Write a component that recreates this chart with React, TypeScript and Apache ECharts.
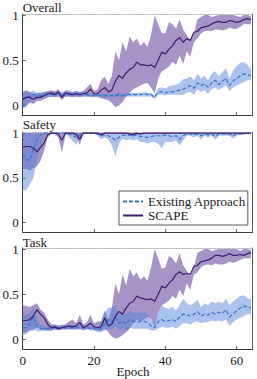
import React, { useEffect, useRef } from "react";
import * as echarts from "echarts";

const EPOCHS = [
  0, 1, 2, 3, 4, 5, 6, 7, 8, 9,
  10, 11, 12, 13, 14, 15, 16, 17, 18, 19,
  20, 21, 22, 23, 24, 25, 26, 27, 28, 29,
  30, 31, 32, 33, 34, 35, 36, 37, 38, 39,
  40, 41, 42, 43, 44, 45, 46, 47, 48, 49,
  50, 51, 52, 53, 54, 55, 56, 57, 58, 59,
  60, 61, 62, 63, 64,
];
const Y_TICKS = [0, 0.5, 1];
const X_TICKS = [0, 20, 40, 60];
const TITLES = ["Overall", "Safety", "Task"];
const SERIES_NAMES = ["Existing Approach", "SCAPE"];

// ---------- Overall ----------
const OVERALL_SCAPE_MEAN = [
  0.07, 0.09, 0.09, 0.07, 0.09, 0.09, 0.11, 0.13, 0.14, 0.12,
  0.15, 0.09, 0.14, 0.13, 0.12, 0.13, 0.12, 0.13, 0.14, 0.18,
  0.13, 0.13, 0.17, 0.2, 0.15, 0.17, 0.27, 0.33, 0.3, 0.36,
  0.4, 0.42, 0.48, 0.45, 0.45, 0.44, 0.45, 0.42, 0.5, 0.59,
  0.57, 0.62, 0.66, 0.72, 0.75, 0.7, 0.74, 0.72, 0.81, 0.82,
  0.86, 0.87, 0.88, 0.9, 0.92, 0.93, 0.92, 0.92, 0.94, 0.93,
  0.92, 0.93, 0.95, 0.96, 0.95,
];
const OVERALL_SCAPE_LO = [
  -0.02, 0.0, 0.03, 0.02, 0.05, 0.05, 0.07, 0.09, 0.1, 0.09,
  0.1, 0.06, 0.1, 0.1, 0.09, 0.1, 0.09, 0.1, 0.1, 0.1,
  0.1, 0.1, 0.08, 0.07, 0.06, 0.03, -0.02, 0.0, 0.04, 0.1,
  0.14, 0.18, 0.2, 0.22, 0.24, 0.25, 0.2, 0.13, 0.3, 0.38,
  0.4, 0.43, 0.48, 0.45, 0.55, 0.46, 0.6, 0.54, 0.7, 0.74,
  0.8, 0.82, 0.83, 0.82, 0.84, 0.84, 0.83, 0.84, 0.86, 0.85,
  0.85, 0.87, 0.9, 0.9, 0.9,
];
const OVERALL_SCAPE_HI = [
  0.15, 0.17, 0.15, 0.13, 0.14, 0.14, 0.15, 0.16, 0.17, 0.16,
  0.18, 0.13, 0.17, 0.16, 0.15, 0.16, 0.15, 0.16, 0.2, 0.24,
  0.16, 0.18, 0.28, 0.32, 0.24, 0.33, 0.6, 0.5, 0.7, 0.6,
  0.76, 0.7, 0.74, 0.66, 0.7, 0.65, 0.78, 1.0, 0.9, 0.8,
  0.8, 0.92, 0.9, 0.85, 0.95, 0.84, 0.78, 0.72, 0.8, 0.95,
  0.98, 1.0, 1.0, 0.98, 0.99, 1.0, 1.0, 1.0, 1.0, 1.0,
  0.99, 0.98, 1.0, 1.0, 0.99,
];
const OVERALL_EXIST_MEAN = [
  0.06, 0.1, 0.1, 0.12, 0.1, 0.11, 0.12, 0.12, 0.12, 0.12,
  0.13, 0.12, 0.12, 0.12, 0.12, 0.13, 0.12, 0.13, 0.12, 0.11,
  0.11, 0.11, 0.11, 0.11, 0.11, 0.11, 0.11, 0.12, 0.11, 0.12,
  0.12, 0.12, 0.12, 0.12, 0.13, 0.12, 0.12, 0.09, 0.15, 0.15,
  0.14, 0.15, 0.15, 0.16, 0.17, 0.18, 0.2, 0.22, 0.19, 0.25,
  0.22, 0.24, 0.2, 0.25, 0.28, 0.23, 0.27, 0.3, 0.22, 0.27,
  0.3, 0.33, 0.35, 0.34, 0.33,
];
const OVERALL_EXIST_LO = [
  -0.03, -0.02, 0.05, 0.07, 0.07, 0.08, 0.09, 0.09, 0.09, 0.1,
  0.1, 0.1, 0.1, 0.1, 0.1, 0.1, 0.1, 0.1, 0.1, 0.09,
  0.09, 0.09, 0.09, 0.09, 0.09, 0.09, 0.09, 0.1, 0.09, 0.1,
  0.1, 0.1, 0.1, 0.1, 0.1, 0.1, 0.1, 0.07, 0.12, 0.12,
  0.11, 0.12, 0.12, 0.12, 0.12, 0.12, 0.14, 0.15, 0.12, 0.18,
  0.15, 0.17, 0.13, 0.18, 0.2, 0.17, 0.2, 0.22, 0.16, 0.2,
  0.22, 0.24, 0.26, 0.28, 0.28,
];
const OVERALL_EXIST_HI = [
  0.15, 0.16, 0.14, 0.17, 0.13, 0.14, 0.15, 0.15, 0.15, 0.15,
  0.16, 0.15, 0.15, 0.15, 0.15, 0.16, 0.15, 0.16, 0.15, 0.13,
  0.13, 0.13, 0.13, 0.13, 0.13, 0.13, 0.13, 0.14, 0.13, 0.14,
  0.14, 0.14, 0.14, 0.14, 0.15, 0.14, 0.14, 0.11, 0.19, 0.2,
  0.19, 0.21, 0.22, 0.23, 0.25, 0.29, 0.3, 0.32, 0.28, 0.35,
  0.3, 0.33, 0.28, 0.35, 0.38, 0.32, 0.37, 0.41, 0.3, 0.39,
  0.44, 0.47, 0.48, 0.45, 0.4,
];

// ---------- Safety ----------
const SAFETY_SCAPE_MEAN = [
  0.84, 0.85, 0.85, 0.83, 0.79, 0.84, 0.89, 0.98, 1, 1,
  0.99, 0.92, 1, 1, 1, 0.99, 0.93, 1, 1, 1,
  1, 1, 0.98, 1, 1, 1, 1, 1, 1, 1,
  0.99, 0.985, 1, 0.99, 1, 1, 1, 1, 1, 1,
  1, 1, 1, 1, 1, 1, 1, 1, 1, 1,
  1, 1, 1, 1, 1, 1, 1, 1, 1, 1,
  1, 1, 1, 1, 1,
];
const SAFETY_SCAPE_LO = [
  0.6, 0.6, 0.58, 0.61, 0.63, 0.69, 0.8, 0.95, 0.99, 0.99,
  0.95, 0.78, 0.98, 1, 0.98, 0.96, 0.87, 0.99, 1, 1,
  1, 1, 0.96, 0.99, 1, 1, 1, 1, 1, 1,
  0.97, 0.96, 0.99, 0.97, 1, 1, 1, 1, 1, 1,
  1, 1, 1, 1, 1, 1, 1, 1, 1, 1,
  1, 1, 1, 1, 1, 1, 1, 1, 1, 1,
  1, 1, 1, 1, 1,
];
const SAFETY_SCAPE_HI = [
  1, 1, 1, 1, 1, 1, 1, 1, 1, 1,
  1, 1, 1, 1, 1, 1, 1, 1, 1, 1,
  1, 1, 1, 1, 1, 1, 1, 1, 1, 1,
  1, 1, 1, 1, 1, 1, 1, 1, 1, 1,
  1, 1, 1, 1, 1, 1, 1, 1, 1, 1,
  1, 1, 1, 1, 1, 1, 1, 1, 1, 1,
  1, 1, 1, 1, 1,
];
const SAFETY_EXIST_MEAN = [
  0.77, 0.7, 0.7, 0.82, 0.93, 0.98, 1, 1, 1, 1,
  1, 1, 1, 0.99, 0.97, 0.95, 0.98, 1, 1, 1,
  1, 0.99, 0.97, 0.98, 0.97, 0.95, 0.92, 0.95, 0.98, 0.97,
  0.98, 0.97, 0.98, 0.96, 0.96, 0.95, 0.96, 0.97, 0.97, 0.97,
  0.98, 0.97, 0.96, 0.97, 0.93, 0.97, 0.99, 0.99, 0.98, 0.99,
  0.97, 0.99, 0.98, 0.99, 0.96, 0.99, 0.99, 0.99, 0.99, 0.97,
  0.99, 0.99, 0.99, 1, 0.99,
];
const SAFETY_EXIST_LO = [
  0.37, 0.36, 0.43, 0.5, 0.69, 0.85, 0.97, 0.99, 0.99, 0.99,
  0.99, 0.99, 0.99, 0.96, 0.91, 0.87, 0.94, 1, 1, 1,
  0.99, 0.97, 0.93, 0.95, 0.93, 0.86, 0.74, 0.88, 0.94, 0.92,
  0.93, 0.92, 0.93, 0.9, 0.9, 0.88, 0.9, 0.9, 0.88, 0.83,
  0.9, 0.9, 0.9, 0.92, 0.86, 0.92, 0.97, 0.97, 0.95, 0.97,
  0.93, 0.97, 0.95, 0.97, 0.93, 0.97, 0.97, 0.97, 0.97, 0.94,
  0.97, 0.98, 0.98, 0.99, 0.98,
];
const SAFETY_EXIST_HI = [
  1, 1, 1, 1, 1, 1, 1, 1, 1, 1,
  1, 1, 1, 1, 1, 1, 1, 1, 1, 1,
  1, 1, 1, 1, 1, 1, 1, 1, 1, 1,
  1, 1, 1, 1, 1, 1, 1, 1, 1, 1,
  1, 1, 1, 1, 1, 1, 1, 1, 1, 1,
  1, 1, 1, 1, 1, 1, 1, 1, 1, 1,
  1, 1, 1, 1, 1,
];

// ---------- Task ----------
const TASK_SCAPE_MEAN = [
  0.21, 0.21, 0.22, 0.26, 0.33, 0.28, 0.24, 0.17, 0.13, 0.14,
  0.12, 0.13, 0.14, 0.15, 0.14, 0.15, 0.19, 0.13, 0.15, 0.18,
  0.14, 0.13, 0.14, 0.24, 0.15, 0.17, 0.26, 0.31, 0.28, 0.35,
  0.4, 0.42, 0.48, 0.46, 0.45, 0.44, 0.45, 0.42, 0.5, 0.59,
  0.57, 0.62, 0.66, 0.72, 0.75, 0.72, 0.73, 0.72, 0.81, 0.82,
  0.86, 0.87, 0.88, 0.9, 0.93, 0.93, 0.92, 0.93, 0.95, 0.93,
  0.93, 0.94, 0.93, 0.95, 0.96,
];
const TASK_SCAPE_LO = [
  0.07, 0.08, 0.1, 0.1, 0.14, 0.12, 0.1, 0.1, 0.1, 0.11,
  0.1, 0.11, 0.11, 0.12, 0.11, 0.12, 0.12, 0.1, 0.12, 0.12,
  0.11, 0.1, 0.1, 0.12, 0.08, 0.03, 0.01, 0.02, 0.05, 0.08,
  0.12, 0.18, 0.22, 0.2, 0.22, 0.25, 0.23, 0.15, 0.3, 0.38,
  0.4, 0.43, 0.48, 0.45, 0.55, 0.48, 0.62, 0.55, 0.72, 0.74,
  0.8, 0.82, 0.83, 0.82, 0.84, 0.83, 0.83, 0.84, 0.86, 0.85,
  0.86, 0.88, 0.9, 0.9, 0.9,
];
const TASK_SCAPE_HI = [
  0.38, 0.37, 0.36, 0.38, 0.4, 0.33, 0.3, 0.22, 0.17, 0.17,
  0.15, 0.16, 0.17, 0.2, 0.22, 0.18, 0.27, 0.17, 0.19, 0.27,
  0.18, 0.2, 0.2, 0.32, 0.22, 0.35, 0.62, 0.5, 0.72, 0.6,
  0.78, 0.7, 0.74, 0.66, 0.7, 0.65, 0.8, 1.0, 0.9, 0.78,
  0.8, 0.92, 0.9, 0.84, 0.95, 0.82, 0.76, 0.7, 0.8, 0.96,
  0.98, 1.0, 1.0, 0.98, 0.99, 1.0, 1.0, 1.0, 1.0, 1.0,
  1.0, 0.98, 1.0, 1.0, 0.99,
];
const TASK_EXIST_MEAN = [
  0.13, 0.13, 0.18, 0.25, 0.14, 0.12, 0.12, 0.12, 0.12, 0.13,
  0.13, 0.13, 0.13, 0.13, 0.13, 0.13, 0.13, 0.13, 0.13, 0.12,
  0.12, 0.1, 0.12, 0.17, 0.22, 0.2, 0.25, 0.18, 0.2, 0.17,
  0.22, 0.2, 0.19, 0.2, 0.2, 0.19, 0.15, 0.13, 0.2, 0.22,
  0.2, 0.21, 0.22, 0.2, 0.25, 0.28, 0.27, 0.26, 0.28, 0.31,
  0.26, 0.28, 0.27, 0.3, 0.28, 0.3, 0.29, 0.33, 0.25, 0.28,
  0.32, 0.35, 0.37, 0.36, 0.35,
];
const TASK_EXIST_LO = [
  0.05, 0.06, 0.1, 0.12, 0.09, 0.09, 0.1, 0.1, 0.1, 0.11,
  0.11, 0.11, 0.11, 0.11, 0.11, 0.11, 0.11, 0.11, 0.11, 0.1,
  0.1, 0.08, 0.08, 0.1, 0.12, 0.1, 0.15, 0.1, 0.12, 0.1,
  0.13, 0.12, 0.12, 0.12, 0.12, 0.12, 0.1, 0.1, 0.12, 0.14,
  0.13, 0.13, 0.14, 0.12, 0.15, 0.18, 0.18, 0.17, 0.19, 0.2,
  0.18, 0.19, 0.19, 0.21, 0.2, 0.21, 0.2, 0.22, 0.15, 0.19,
  0.22, 0.24, 0.26, 0.28, 0.28,
];
const TASK_EXIST_HI = [
  0.25, 0.27, 0.3, 0.35, 0.22, 0.16, 0.15, 0.15, 0.15, 0.16,
  0.16, 0.16, 0.16, 0.16, 0.16, 0.16, 0.16, 0.16, 0.16, 0.15,
  0.15, 0.14, 0.2, 0.3, 0.35, 0.35, 0.38, 0.28, 0.3, 0.28,
  0.32, 0.3, 0.29, 0.3, 0.3, 0.28, 0.22, 0.18, 0.3, 0.38,
  0.35, 0.34, 0.36, 0.32, 0.38, 0.45, 0.4, 0.38, 0.4, 0.44,
  0.36, 0.4, 0.38, 0.42, 0.4, 0.42, 0.4, 0.45, 0.38, 0.42,
  0.45, 0.48, 0.49, 0.46, 0.44,
];

const PANEL_DATA = [
  {
    scape: [OVERALL_SCAPE_MEAN, OVERALL_SCAPE_LO, OVERALL_SCAPE_HI],
    exist: [OVERALL_EXIST_MEAN, OVERALL_EXIST_LO, OVERALL_EXIST_HI],
  },
  {
    scape: [SAFETY_SCAPE_MEAN, SAFETY_SCAPE_LO, SAFETY_SCAPE_HI],
    exist: [SAFETY_EXIST_MEAN, SAFETY_EXIST_LO, SAFETY_EXIST_HI],
  },
  {
    scape: [TASK_SCAPE_MEAN, TASK_SCAPE_LO, TASK_SCAPE_HI],
    exist: [TASK_EXIST_MEAN, TASK_EXIST_LO, TASK_EXIST_HI],
  },
];

// layout / style
const LAYOUT = [
  { top: 14, height: 101, titleY: 7.5 },
  { top: 132, height: 100, titleY: 124.5 },
  { top: 248, height: 101, titleY: 242 },
];
const GRID_LEFT = 22.7;
const GRID_WIDTH = 230;
const X_MIN = 0;
const X_MAX = 64.5;
const Y_MIN = -0.105;
const Y_MAX = 1.012;
const FONT = "Liberation Serif, Times New Roman, serif";
const TEXT_COLOR = "#1a1a1a";
const AXIS_COLOR = "#3a3a3a";
const SCAPE_LINE = "#3f1d6e";
const SCAPE_FILL = "rgba(94, 60, 153, 0.55)";
const EXIST_LINE = "#3b74c9";
const EXIST_FILL = "rgba(80, 130, 215, 0.48)";

const pairs = (ys: number[]) => ys.map((y, i) => [EPOCHS[i], y]);
const bandRows = (lo: number[], hi: number[]) => lo.map((l, i) => [EPOCHS[i], l, hi[i]]);

function bandSeries(xi: number, yi: number, lo: number[], hi: number[], fill: string, name: string) {
  return {
    type: "custom",
    name,
    xAxisIndex: xi,
    yAxisIndex: yi,
    silent: true,
    clip: true,
    data: bandRows(lo, hi),
    encode: { x: 0, y: [1, 2] },
    renderItem: (params: any, api: any) => {
      if (params.dataIndex !== 0) return null;
      const upper: number[][] = [];
      const lower: number[][] = [];
      for (let i = 0; i < EPOCHS.length; i++) {
        upper.push(api.coord([EPOCHS[i], hi[i]]));
        lower.push(api.coord([EPOCHS[i], lo[i]]));
      }
      const points = upper.concat(lower.reverse());
      return {
        type: "polygon",
        shape: { points },
        style: { fill, stroke: "none" },
      };
    },
  };
}

function buildOption() {
  const grid: any[] = [];
  const xAxis: any[] = [];
  const yAxis: any[] = [];
  const series: any[] = [];
  const graphic: any[] = [];

  LAYOUT.forEach((L, i) => {
    const isLast = i === LAYOUT.length - 1;
    grid.push({
      left: GRID_LEFT,
      top: L.top,
      width: GRID_WIDTH,
      height: L.height,
      containLabel: false,
      outerBoundsMode: "none",
    });
    xAxis.push({
      type: "value",
      gridIndex: i,
      position: "bottom",
      min: X_MIN,
      max: X_MAX,
      interval: 20,
      axisLine: { show: true, onZero: false, lineStyle: { color: AXIS_COLOR, width: 1 } },
      axisTick: {
        show: true,
        inside: true,
        length: 3,
        customValues: X_TICKS,
        lineStyle: { color: AXIS_COLOR, width: 0.8 },
      },
      axisLabel: {
        show: isLast,
        customValues: X_TICKS,
        margin: 5,
        fontFamily: FONT,
        fontSize: 13,
        color: TEXT_COLOR,
      },
      splitLine: { show: false },
    });
    xAxis.push({
      type: "value",
      gridIndex: i,
      position: "top",
      min: X_MIN,
      max: X_MAX,
      axisLine: { show: true, onZero: false, lineStyle: { color: "#b0b0b0", width: 1, type: [1.5, 1.5] } },
      axisTick: { show: false },
      axisLabel: { show: false },
      splitLine: { show: false },
    });
    yAxis.push({
      type: "value",
      gridIndex: i,
      position: "left",
      min: Y_MIN,
      max: Y_MAX,
      axisLine: { show: true, onZero: false, lineStyle: { color: AXIS_COLOR, width: 1 } },
      axisTick: {
        show: true,
        inside: true,
        length: 3,
        customValues: Y_TICKS,
        lineStyle: { color: AXIS_COLOR, width: 0.8 },
      },
      axisLabel: {
        show: true,
        customValues: Y_TICKS,
        margin: 4,
        fontFamily: FONT,
        fontSize: 13,
        color: TEXT_COLOR,
        formatter: (v: number) => String(v),
      },
      splitLine: { show: false },
    });
    yAxis.push({
      type: "value",
      gridIndex: i,
      position: "right",
      min: Y_MIN,
      max: Y_MAX,
      axisLine: { show: true, onZero: false, lineStyle: { color: "#555", width: 1 } },
      axisTick: { show: false },
      axisLabel: { show: false },
      splitLine: { show: false },
    });

    const xi = i * 2;
    const yi = i * 2;
    const d = PANEL_DATA[i];
    series.push(bandSeries(xi, yi, d.scape[1], d.scape[2], SCAPE_FILL, `scape-band-${i}`));
    series.push(bandSeries(xi, yi, d.exist[1], d.exist[2], EXIST_FILL, `exist-band-${i}`));
    series.push({
      type: "line",
      name: SERIES_NAMES[0],
      xAxisIndex: xi,
      yAxisIndex: yi,
      symbol: "none",
      data: pairs(d.exist[0]),
      lineStyle: { color: EXIST_LINE, width: 1.2, type: [4, 2] },
      itemStyle: { color: EXIST_LINE },
      emphasis: { disabled: true },
    });
    series.push({
      type: "line",
      name: SERIES_NAMES[1],
      xAxisIndex: xi,
      yAxisIndex: yi,
      symbol: "none",
      data: pairs(d.scape[0]),
      lineStyle: { color: SCAPE_LINE, width: 1.2 },
      itemStyle: { color: SCAPE_LINE },
      emphasis: { disabled: true },
    });

    graphic.push({
      type: "text",
      x: GRID_LEFT,
      y: L.titleY,
      z: 100,
      style: {
        text: TITLES[i],
        fontFamily: FONT,
        fontSize: 13,
        fill: TEXT_COLOR,
        align: "left",
        verticalAlign: "middle",
      },
    });
  });

  graphic.push({
    type: "text",
    x: 133,
    y: 371,
    z: 100,
    style: {
      text: "Epoch",
      fontFamily: FONT,
      fontSize: 13,
      fill: TEXT_COLOR,
      align: "center",
      verticalAlign: "middle",
    },
  });

  return {
    animation: false,
    backgroundColor: "#ffffff",
    textStyle: { fontFamily: FONT },
    grid,
    xAxis,
    yAxis,
    series,
    graphic,
    legend: {
      show: true,
      data: SERIES_NAMES,
      orient: "vertical",
      left: 119,
      top: 191,
      itemWidth: 20,
      itemHeight: 12,
      itemGap: 1,
      padding: [4, 2, 3, 3],
      backgroundColor: "#ffffff",
      borderColor: "#555555",
      borderWidth: 1,
      borderRadius: 0,
      selectedMode: false,
      itemStyle: { opacity: 0 },
      textStyle: { fontFamily: FONT, fontSize: 13, color: TEXT_COLOR, lineHeight: 12 },
    },
  };
}

export default function App() {
  const ref = useRef<HTMLDivElement | null>(null);
  useEffect(() => {
    if (!ref.current) return;
    const chart = echarts.init(ref.current, null, { renderer: "svg" });
    chart.setOption(buildOption() as any);
    return () => chart.dispose();
  }, []);
  return (
    <div
      ref={ref}
      style={{ position: "absolute", left: 0, top: 0, width: 257, height: 379, background: "#fff" }}
    />
  );
}
